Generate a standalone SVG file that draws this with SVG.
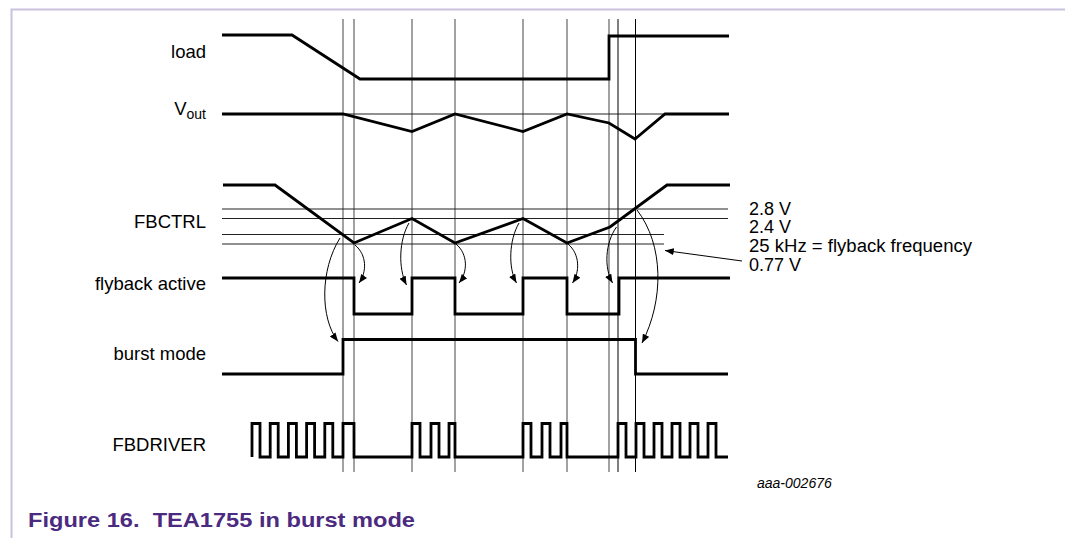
<svg xmlns="http://www.w3.org/2000/svg" width="1065" height="538" viewBox="0 0 1065 538">
  <style>
    .sig { fill: none; stroke: #000; stroke-width: 2.8; stroke-linejoin: miter; }
    .grid { stroke: #7a7a7a; stroke-width: 1.4; }
    .gridk { stroke: #000; stroke-width: 1; }
    .thr { stroke: #222; stroke-width: 1; }
    .lbl { font-family: "Liberation Sans", Arial, sans-serif; font-size: 18.5px; fill: #000; }
    .val { font-family: "Liberation Sans", Arial, sans-serif; font-size: 18px; fill: #000; }
    .arr { fill: none; stroke: #000; stroke-width: 1; }
  </style>
  <defs>
    <marker id="ah" viewBox="0 0 10 8" refX="10" refY="4" markerWidth="9" markerHeight="7" markerUnits="userSpaceOnUse" orient="auto">
      <path d="M0,0 L10,4 L0,8 Z" fill="#000"/>
    </marker>
  </defs>
  <rect width="1065" height="538" fill="#fff"/>
  <!-- frame -->
  <g id="frame" stroke="#c9c1dd" stroke-width="2" fill="none">
    <path d="M11.5,538 V9.5 H1065"/>
  </g>
  <!-- vertical timing markers and threshold lines -->
  <g id="gridlines">
    <line class="grid" x1="343" y1="19" x2="343" y2="472"/>
    <line class="grid" x1="354" y1="19" x2="354" y2="472"/>
    <line class="grid" x1="412" y1="19" x2="412" y2="472"/>
    <line class="grid" x1="455" y1="19" x2="455" y2="472"/>
    <line class="grid" x1="523" y1="19" x2="523" y2="472"/>
    <line class="grid" x1="567" y1="19" x2="567" y2="472"/>
    <line class="grid" x1="609" y1="19" x2="609" y2="472"/>
    <line class="gridk" x1="618" y1="19" x2="618" y2="472"/>
    <line class="gridk" x1="635.5" y1="19" x2="635.5" y2="472"/>
    <line class="thr" x1="343" y1="114" x2="665" y2="114"/>
    <line class="thr" x1="222" y1="209" x2="728" y2="209"/>
    <line class="thr" x1="222" y1="218.5" x2="728" y2="218.5"/>
    <line class="thr" x1="222" y1="234.5" x2="664" y2="234.5"/>
    <line class="thr" x1="222" y1="244" x2="664" y2="244"/>
  </g>
  <!-- signals -->
  <g id="load">
    <text class="lbl" x="206" y="58" text-anchor="end">load</text>
    <path class="sig" d="M222,35 H292 L360,79 H609 V36 H729"/>
  </g>
  <g id="vout">
    <text class="lbl" x="206" y="114.5" text-anchor="end">V<tspan dy="4" font-size="14">out</tspan></text>
    <path class="sig" d="M222,114 H343 L412,131.5 L455,114 L523,131.5 L567,114 L609,123 L635,139 L665,114 H729"/>
  </g>
  <g id="fbctrl">
    <text class="lbl" x="206" y="228" text-anchor="end">FBCTRL</text>
    <path class="sig" d="M223,185 H275 L354,243 L412,218.5 L455,243 L523,218.5 L567,243 L610,227 L667,185 H730"/>
  </g>
  <g id="thresholds">
    <text class="val" x="749" y="215">2.8 V</text>
    <text class="val" x="749" y="233">2.4 V</text>
    <text class="val" x="749" y="251.5" textLength="223" lengthAdjust="spacingAndGlyphs">25 kHz = flyback frequency</text>
    <text class="val" x="749" y="270.5">0.77 V</text>
  </g>
  <g id="flyback">
    <text class="lbl" x="206" y="290" text-anchor="end">flyback active</text>
    <path class="sig" d="M222,278 H354 V314 H412 V278 H455 V314 H523 V278 H567 V314 H619 V278 H730"/>
  </g>
  <g id="burst">
    <text class="lbl" x="206" y="360" text-anchor="end">burst mode</text>
    <path class="sig" d="M222,374 H343 V339.5 H635.5 V374 H728"/>
  </g>
  <g id="fbdriver">
    <text class="lbl" x="206" y="450.5" text-anchor="end">FBDRIVER</text>
    <path class="sig" d="M252,457 V423.5 H260 V457 H270.2 V423.5 H278.2 V457 H288.4 V423.5 H296.4 V457 H306.6 V423.5 H314.6 V457 H324.8 V423.5 H332.8 V457 H343 V423.5 H354 V457 H412 V423.5 H420 V457 H431 V423.5 H439 V457 H449 V423.5 H455 V457 H523 V423.5 H531 V457 H542 V423.5 H550 V457 H561 V423.5 H567 V457 H618 V423.5 H626 V457 H636 V423.5 H644 V457 H654 V423.5 H662 V457 H672 V423.5 H680 V457 H690 V423.5 H698 V457 H708 V423.5 H716 V457 H728"/>
  </g>
  <!-- connectors -->
  <g id="connectors">
    <path class="arr" marker-end="url(#ah)" d="M340,238 C320,270 320,318 338,341.5"/>
    <path class="arr" marker-end="url(#ah)" d="M355,245 C367,255 367,272 359,283"/>
    <path class="arr" marker-end="url(#ah)" d="M409,223 C399,240 398,268 406.5,285"/>
    <path class="arr" marker-end="url(#ah)" d="M456,244 C468,254 468,272 459,283"/>
    <path class="arr" marker-end="url(#ah)" d="M519,223 C509,240 508,268 516.5,283"/>
    <path class="arr" marker-end="url(#ah)" d="M568,244 C580,254 580,272 572.5,283"/>
    <path class="arr" marker-end="url(#ah)" d="M616.5,227 C605,243 604,268 612.5,283"/>
    <path class="arr" marker-end="url(#ah)" d="M637,210 C664,245 664,300 642,343"/>
    <path class="arr" marker-end="url(#ah)" d="M742,261 L665,250.5"/>
  </g>
  <text x="757" y="488" font-family="Liberation Sans, Arial, sans-serif" font-size="14" font-style="italic" fill="#000">aaa-002676</text>
  <g id="caption" font-family="Liberation Sans, Arial, sans-serif" font-weight="bold" font-size="20.5" fill="#4b2a80">
    <text x="28" y="527" xml:space="preserve" textLength="387" lengthAdjust="spacingAndGlyphs">Figure 16.  TEA1755 in burst mode</text>
  </g>
</svg>
